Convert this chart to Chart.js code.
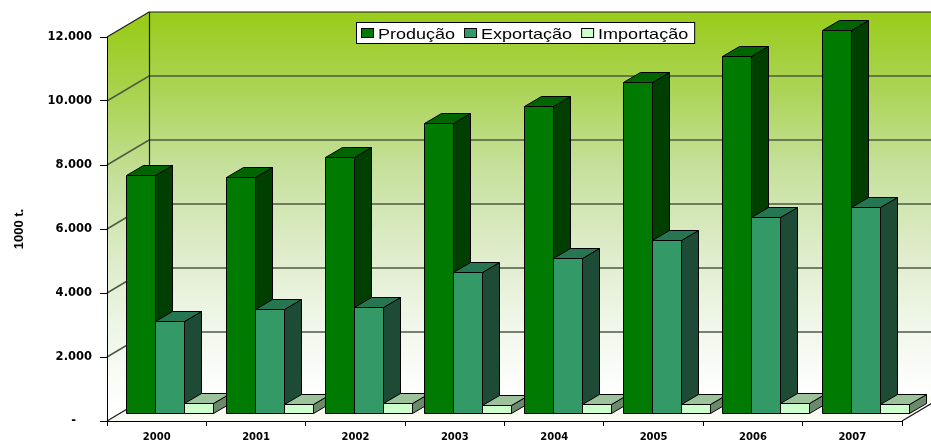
<!DOCTYPE html>
<html>
<head>
<meta charset="utf-8">
<script src="https://cdn.jsdelivr.net/npm/chart.js@4.4.1/dist/chart.umd.min.js"></script>
<style>
  html, body { margin: 0; padding: 0; background: #fff; }
  #wrap { width: 931px; height: 441px; }
</style>
</head>
<body>
<div id="wrap"><canvas id="chart"></canvas></div>
<script>
// values in 1000 t
const years = ['2000', '2001', '2002', '2003', '2004', '2005', '2006', '2007'];
const producao = [7440, 7380, 8010, 9050, 9600, 10340, 11160, 11970];
const exportacao = [2880, 3240, 3300, 4420, 4850, 5410, 6130, 6450];
const importacao = [300, 290, 300, 260, 280, 280, 300, 270];
const yTicks = [0, 2000, 4000, 6000, 8000, 10000, 12000];

// 3D look
const WALL_DX = 42, WALL_DY = 25;   // depth of the floor / side wall
const BAR_SX = 13, BAR_SY = 8;      // where the bar row sits inside the depth
const BAR_DX = 17, BAR_DY = 10;     // depth of each column
const faces = [
  { front: '#007a00', top: '#006400', side: '#003f00' },
  { front: '#339966', top: '#277652', side: '#1e4b36' },
  { front: '#ccffcc', top: '#9cc29c', side: '#6b8a6b' }
];

const fmt = v => v === 0 ? '-    ' : String(v).replace(/\B(?=(\d{3})+(?!\d))/g, '.');

const px = v => Math.round(v) + 0.5;

const depth3d = {
  id: 'depth3d',
  beforeDraw(chart) {
    const { ctx, chartArea: a, scales: { y } } = chart;
    const W = chart.width;
    const bx = a.left + WALL_DX;
    const top = y.getPixelForValue(yTicks[yTicks.length - 1]) - WALL_DY;
    const bot = a.bottom - WALL_DY;
    ctx.save();

    const grad = (y0, y1) => {
      const g = ctx.createLinearGradient(0, y0, 0, y1);
      g.addColorStop(0, '#99cc1a');
      g.addColorStop(0.2, '#abd455');
      g.addColorStop(0.4, '#c5e09a');
      g.addColorStop(0.6, '#dcebc6');
      g.addColorStop(0.8, '#eff6e8');
      g.addColorStop(1, '#ffffff');
      return g;
    };

    // back wall
    ctx.fillStyle = grad(top, bot);
    ctx.fillRect(bx, top, W - bx, bot - top);

    // side wall
    ctx.fillStyle = grad(top + 12, bot + 12);
    ctx.beginPath();
    ctx.moveTo(a.left, a.top);
    ctx.lineTo(bx, top);
    ctx.lineTo(bx, bot);
    ctx.lineTo(a.left, a.bottom);
    ctx.closePath();
    ctx.fill();

    // floor
    ctx.fillStyle = '#fafcf4';
    ctx.beginPath();
    ctx.moveTo(a.left, a.bottom);
    ctx.lineTo(bx, bot);
    ctx.lineTo(a.right + WALL_DX, bot);
    ctx.lineTo(a.right, a.bottom);
    ctx.closePath();
    ctx.fill();

    // gridlines
    ctx.lineWidth = 1.5;
    ctx.strokeStyle = '#4f5a44';
    yTicks.forEach(v => {
      if (v === 0 || v === yTicks[yTicks.length - 1]) return;
      const fy = y.getPixelForValue(v);
      ctx.beginPath();
      ctx.moveTo(a.left, fy);
      ctx.lineTo(bx, fy - WALL_DY);
      ctx.lineTo(W, fy - WALL_DY);
      ctx.stroke();
    });

    // wall edges
    ctx.lineWidth = 1.2;
    ctx.strokeStyle = '#1a1a1a';
    ctx.beginPath();
    ctx.moveTo(a.left, a.top);
    ctx.lineTo(bx, top);
    ctx.lineTo(W, top);
    ctx.moveTo(px(bx), top);
    ctx.lineTo(px(bx), bot);
    ctx.moveTo(a.left, a.bottom);
    ctx.lineTo(bx, bot);
    ctx.moveTo(a.right, a.bottom);
    ctx.lineTo(a.right + WALL_DX, bot);
    ctx.stroke();
    ctx.restore();
  },
  beforeDatasetDraw() {
    return false;
  },
  afterDatasetsDraw(chart) {
    const ctx = chart.ctx;
    ctx.save();
    ctx.lineWidth = 1;
    ctx.strokeStyle = '#000';
    ctx.lineJoin = 'round';
    years.forEach((yr, i) => {
      chart.data.datasets.forEach((ds, d) => {
        const el = chart.getDatasetMeta(d).data[i];
        const { x, y, base, width } = el.getProps(['x', 'y', 'base', 'width'], true);
        const l = px(x - width / 2 + BAR_SX);
        const r = px(x + width / 2 + BAR_SX);
        const t = px(y - BAR_SY);
        const b = px(base - BAR_SY);
        const f = faces[d];
        // side
        ctx.fillStyle = f.side;
        ctx.beginPath();
        ctx.moveTo(r, t);
        ctx.lineTo(r + BAR_DX, t - BAR_DY);
        ctx.lineTo(r + BAR_DX, b - BAR_DY);
        ctx.lineTo(r, b);
        ctx.closePath();
        ctx.fill();
        ctx.stroke();
        // top
        ctx.fillStyle = f.top;
        ctx.beginPath();
        ctx.moveTo(l, t);
        ctx.lineTo(l + BAR_DX, t - BAR_DY);
        ctx.lineTo(r + BAR_DX, t - BAR_DY);
        ctx.lineTo(r, t);
        ctx.closePath();
        ctx.fill();
        ctx.stroke();
        // front
        ctx.fillStyle = f.front;
        ctx.fillRect(l, t, r - l, b - t);
        ctx.strokeRect(l, t, r - l, b - t);
      });
    });
    ctx.restore();
  },
  afterDraw(chart) {
    const ctx = chart.ctx;
    ctx.save();

    // axis title
    ctx.translate(19.5, 229);
    ctx.rotate(-Math.PI / 2);
    ctx.font = 'bold 13px "Liberation Sans", Arial';
    ctx.fillStyle = '#000';
    ctx.textAlign = 'center';
    ctx.textBaseline = 'middle';
    ctx.fillText('1000 t.', 0, 0);
    ctx.setTransform(1, 0, 0, 1, 0, 0);

    // legend
    const SX = 1.2;
    ctx.font = '15px "Liberation Sans", Arial';
    ctx.textAlign = 'left';
    ctx.textBaseline = 'alphabetic';
    const items = chart.data.datasets.map((ds, d) => ({ label: ds.label, color: faces[d].front, w: ctx.measureText(ds.label).width * SX }));
    const total = items.reduce((s, it) => s + 17 + it.w, 0) + 9 * (items.length - 1) + 11;
    const bl = Math.round(525 - total / 2);
    ctx.fillStyle = '#fff';
    ctx.fillRect(bl + 0.5, 22.5, total, 21);
    ctx.strokeStyle = '#000';
    ctx.lineWidth = 1;
    ctx.strokeRect(bl + 0.5, 22.5, total, 21);
    let cx = bl + 5;
    items.forEach(it => {
      ctx.fillStyle = it.color;
      ctx.fillRect(cx + 0.5, 28.5, 12, 9);
      ctx.strokeRect(cx + 0.5, 28.5, 12, 9);
      ctx.fillStyle = '#000';
      ctx.save();
      ctx.translate(cx + 17, 38.5);
      ctx.scale(SX, 1);
      ctx.fillText(it.label, 0, 0);
      ctx.restore();
      cx += 17 + it.w + 9;
    });
    ctx.restore();
  }
};

new Chart(document.getElementById('chart'), {
  type: 'bar',
  data: {
    labels: years,
    datasets: [
      { label: 'Produção', data: producao, backgroundColor: faces[0].front },
      { label: 'Exportação', data: exportacao, backgroundColor: faces[1].front },
      { label: 'Importação', data: importacao, backgroundColor: faces[2].front }
    ]
  },
  options: {
    responsive: true,
    maintainAspectRatio: false,
    animation: false,
    categoryPercentage: 0.875,
    barPercentage: 1,
    layout: { padding: { top: 37, right: 29, left: 0, bottom: 0 } },
    plugins: {
      legend: { display: false },
      tooltip: { enabled: false }
    },
    scales: {
      x: {
        afterFit: s => { s.height = 20; },
        grid: { drawOnChartArea: false, tickLength: 5, color: '#000' },
        border: { color: '#000', width: 1 },
        ticks: { color: '#000', padding: 5, font: { family: 'DejaVu Sans', size: 10, weight: 'bold' } }
      },
      y: {
        min: 0,
        max: 12000,
        afterFit: s => { s.width = 107; },
        afterBuildTicks: s => { s.ticks = yTicks.map(v => ({ value: v })); },
        grid: { drawOnChartArea: false, tickLength: 7, color: '#000' },
        border: { color: '#000', width: 1 },
        ticks: {
          color: '#000',
          padding: 8,
          font: { family: 'DejaVu Sans', size: 11.5, weight: 'bold' },
          callback: v => fmt(v)
        }
      }
    }
  },
  plugins: [depth3d]
});
</script>
</body>
</html>
